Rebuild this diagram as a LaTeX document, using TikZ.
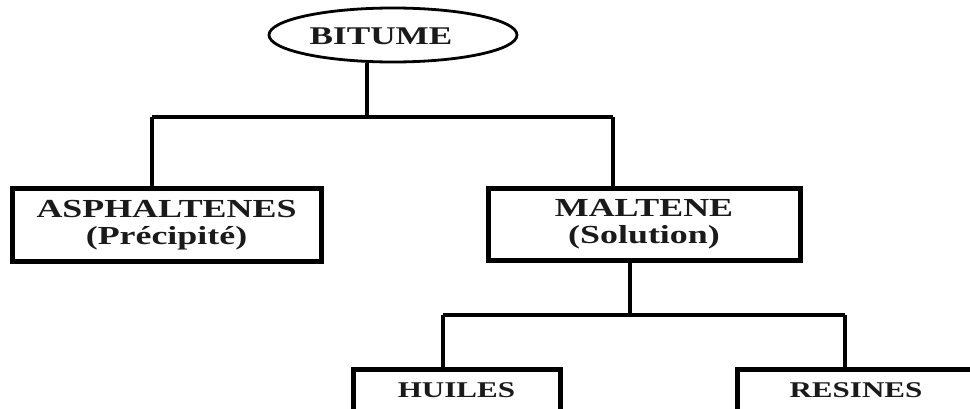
\documentclass[tikz,border=0pt]{standalone}
\usepackage{fontspec}
\setmainfont[FakeStretch=1.38]{Liberation Serif}
\usetikzlibrary{shapes.geometric}
\definecolor{ink}{HTML}{1A1A1A}
\begin{document}
\begin{tikzpicture}[x=1pt,y=-1pt,
  boxstyle/.style={draw=black,line width=5pt,rectangle,inner sep=0pt,align=center,text=ink,
    font=\bfseries\fontsize{26}{27}\selectfont},
  smallbox/.style={boxstyle,font=\bfseries\fontsize{22.5}{25}\selectfont},
  conn/.style={draw=black,line width=4.5pt},
  hconn/.style={draw=black,line width=3.8pt},
  ovalstyle/.style={draw=black,line width=2.8pt,ellipse,inner sep=0pt,minimum width=248pt,minimum height=54pt}]
\useasboundingbox (0,0) rectangle (970,409);
\clip (0,0) rectangle (970,409);
\fill[white] (0,0) rectangle (970,409);
% nodes
\node[ovalstyle] (bitume) at (393,35) {};
\node[text=ink,font=\bfseries\fontsize{25.5}{27}\selectfont,inner sep=0pt] (bitumetext) at (381,36) {BITUME};
\node[boxstyle,minimum width=309pt,minimum height=72pt] (asph) at (166.5,225) {ASPHALTENES\\(Précipité)};
\node[boxstyle,minimum width=312pt,minimum height=71pt] (malt) at (644,224.5) {MALTENE\\(Solution)};
\node[smallbox,minimum width=207pt,minimum height=42pt] (huiles) at (456.5,390) {HUILES};
\node[smallbox,minimum width=238pt,minimum height=42pt] (resines) at (856,390) {RESINES};
% junctions
\coordinate (j1) at (367,117);
\coordinate (jl) at (152,117);
\coordinate (jr) at (613,117);
\coordinate (j2) at (630,315);
\coordinate (jh) at (443,315);
\coordinate (jrs) at (845,315);
% connectors
\draw[conn] (j1 |- bitume.south) -- (j1);
\draw[hconn] (jl) -- (jr);
\draw[conn] (jl) -- (jl |- asph.north);
\draw[conn] (jr) -- (jr |- malt.north);
\draw[conn] (j2 |- malt.south) -- (j2);
\draw[hconn] (jh) -- (jrs);
\draw[conn] (jh) -- (jh |- huiles.north);
\draw[conn] (jrs) -- (jrs |- resines.north);
\end{tikzpicture}
\end{document}
